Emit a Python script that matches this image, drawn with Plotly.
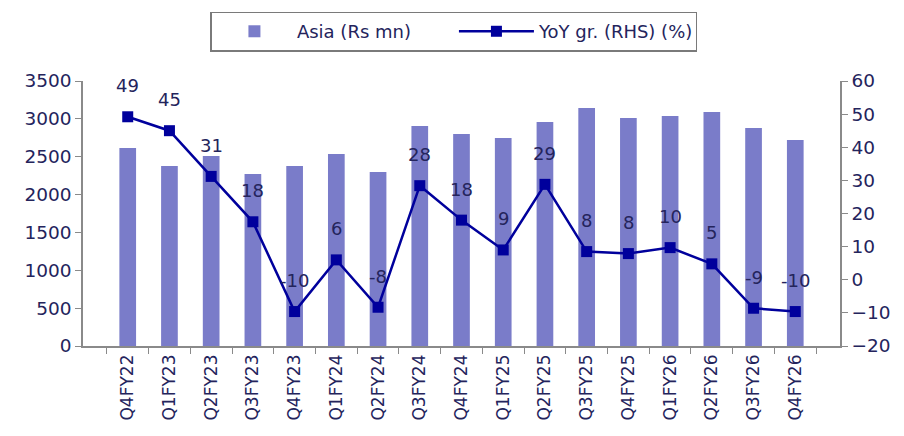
import plotly.graph_objects as go

categories = ["Q4FY22", "Q1FY23", "Q2FY23", "Q3FY23", "Q4FY23", "Q1FY24", "Q2FY24",
              "Q3FY24", "Q4FY24", "Q1FY25", "Q2FY25", "Q3FY25", "Q4FY25", "Q1FY26",
              "Q2FY26", "Q3FY26", "Q4FY26"]
asia_rs_mn = [2615, 2377, 2510, 2272, 2377, 2536, 2298, 2906, 2800, 2748, 2959,
              3144, 3012, 3038, 3091, 2880, 2721]
yoy_growth = [49.2, 45.0, 31.2, 17.5, -9.6, 6.0, -8.3, 28.4, 18.0, 9.0, 28.8,
              8.5, 7.9, 9.7, 4.8, -8.6, -9.6]
yoy_labels = ["49", "45", "31", "18", "-10", "6", "-8", "28", "18", "9", "29",
              "8", "8", "10", "5", "-9", "-10"]
left_ticks = [0, 500, 1000, 1500, 2000, 2500, 3000, 3500]
right_ticks = [-20, -10, 0, 10, 20, 30, 40, 50, 60]

TEXT = "#24245c"
AXIS = "#8a8a8a"
FONT = "DejaVu Sans"

fig = go.Figure()
fig.add_trace(go.Bar(
    x=categories, y=asia_rs_mn, name="Asia (Rs mn)",
    marker=dict(color="#7a7cc9", line=dict(width=0)), width=0.4,
))
fig.add_trace(go.Scatter(
    x=categories, y=yoy_growth, name="YoY gr. (RHS) (%)", yaxis="y2",
    mode="lines+markers",
    line=dict(color="#00009c", width=2.5),
    marker=dict(symbol="square", size=11, color="#00009c"),
))

annotations = [
    dict(x=c, y=v, yref="y2", xref="x", text=t, showarrow=False, yshift=31,
         font=dict(family=FONT, size=18, color=TEXT))
    for c, v, t in zip(categories, yoy_growth, yoy_labels)
]

fig.update_layout(
    width=896, height=428,
    margin=dict(l=75, r=64, t=73, b=90, autoexpand=False),
    paper_bgcolor="white", plot_bgcolor="white",
    font=dict(family=FONT, size=18, color=TEXT),
    showlegend=True,
    legend=dict(orientation="h", x=0.49, xanchor="center", y=1.262, yanchor="top",
                bordercolor="#7a7a7a", borderwidth=1.5,
                font=dict(family=FONT, size=18, color=TEXT),
                entrywidth=152, itemwidth=75),
    bargap=0.6,
    xaxis=dict(type="category", showline=True, linecolor=AXIS, linewidth=1.5,
               ticks="outside", tickson="boundaries", ticklen=6, tickcolor=AXIS,
               tickangle=-90, tickfont=dict(family=FONT, size=17, color=TEXT),
               showgrid=False, zeroline=False, automargin=False),
    yaxis=dict(range=[0, 3500], tickvals=left_ticks, showline=True, linecolor=AXIS,
               linewidth=1.5, ticks="outside", ticklen=6, tickcolor=AXIS,
               showgrid=False, zeroline=False, automargin=False,
               tickfont=dict(family=FONT, size=18.5, color=TEXT)),
    yaxis2=dict(range=[-20, 60], tickvals=right_ticks, overlaying="y", side="right",
                showline=True, linecolor=AXIS, linewidth=1.5, ticks="outside",
                ticklen=6, tickcolor=AXIS, showgrid=False, zeroline=False,
                automargin=False,
                tickfont=dict(family=FONT, size=18.5, color=TEXT)),
    annotations=annotations,
)

fig.write_html("out.html")
